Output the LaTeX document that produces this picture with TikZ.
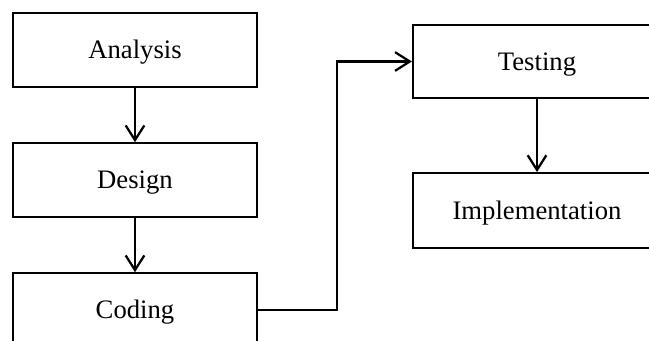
\documentclass[tikz,border=0pt]{standalone}
\usepackage{fontspec}
\setmainfont{Liberation Serif}
\usetikzlibrary{arrows.meta}
\begin{document}
\begin{tikzpicture}[x = .75pt, y = -.75pt, line width = 1.7pt,
	stage/.style = {draw, rectangle, minimum width = 183pt, minimum height = 55pt, inner sep = 0pt, text height = 13pt, text depth = 0pt, font = \fontsize{20}{24}\selectfont},
	flow/.style = {-{Straight Barb[length = 11pt, width = 14pt, line width = 1.7pt]}}]
					\useasboundingbox (0,0) rectangle (649,340);
					\clip (0,0) rectangle (649,340);
					\node[stage] (analysis) at (135,50) {Analysis}; %left column
					\node[stage] (design) at (135,180) {Design};
					\node[stage] (coding) at (135,310) {Coding};
					\node[stage, minimum width = 186pt] (testing) at (537,61.5) {Testing}; %right column
					\node[stage, minimum width = 186pt, minimum height = 56pt] (implementation) at (537,210.5) {Implementation};
					\coordinate (bend) at (337,61.5);
					\draw[flow] (analysis) -- (design);
					\draw[flow] (design) -- (coding);
					\draw[flow] (coding.east) -| (bend) -- (testing.west);
					\draw[flow] (testing) -- (implementation);
				\end{tikzpicture}
\end{document}
